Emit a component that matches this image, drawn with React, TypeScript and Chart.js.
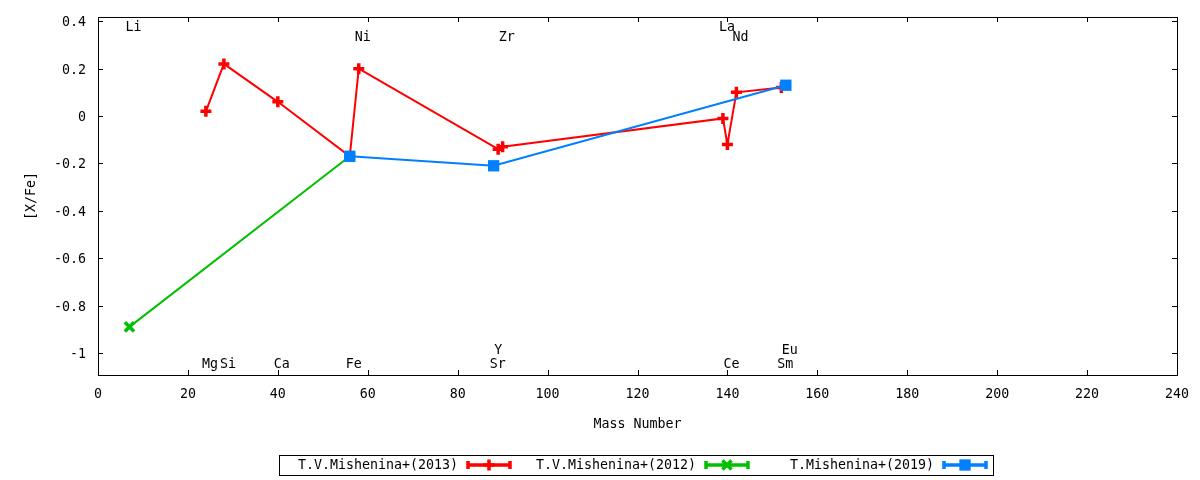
import React, { useEffect, useRef } from 'react';
import { Chart, registerables, Plugin } from 'chart.js';
import { drawPoint } from 'chart.js/helpers';

Chart.register(...registerables);

const FONT = '"DejaVu Sans Mono", monospace';
const FSIZE = 13.3;

// T.V.Mishenina+(2013)
const mass2013 = [24, 28, 40, 56, 58, 89, 90, 139, 140, 142, 152];
const xfe2013 = [0.02, 0.22, 0.06, -0.17, 0.2, -0.14, -0.13, -0.01, -0.12, 0.1, 0.12];
// T.V.Mishenina+(2012)
const mass2012 = [7, 56];
const xfe2012 = [-0.89, -0.17];
// T.Mishenina+(2019)
const mass2019 = [56, 88, 153];
const xfe2019 = [-0.17, -0.21, 0.13];

const seriesLabels = ['T.V.Mishenina+(2013)', 'T.V.Mishenina+(2012)', 'T.Mishenina+(2019)'];

// element name labels placed at their mass number
const elemNames = ['Li', 'Mg', 'Si', 'Ca', 'Fe', 'Ni', 'Sr', 'Y', 'Zr', 'La', 'Ce', 'Nd', 'Sm', 'Eu'];
const elemMass = [7, 24, 28, 40, 56, 58, 88, 89, 90, 139, 140, 142, 152, 153];
const elemLabelY = [0.375, -1.05, -1.05, -1.05, -1.05, 0.333, -1.05, -0.99, 0.333, 0.375, -1.05, 0.333, -1.05, -0.99];

const xTicks = [0, 20, 40, 60, 80, 100, 120, 140, 160, 180, 200, 220, 240];
const yTicks = [-1, -0.8, -0.6, -0.4, -0.2, 0, 0.2, 0.4];

const TICK = 5;

const toPoints = (xs: number[], ys: number[]) => xs.map((x, i) => ({ x, y: ys[i] }));

const gnuplotFrame: Plugin<'line'> = {
    id: 'gnuplotFrame',
    afterDraw(chart) {
        const { ctx, chartArea: a, scales } = chart;
        const xs = scales.x;
        const ys = scales.y;
        ctx.save();
        ctx.strokeStyle = '#000';
        ctx.lineWidth = 1;
        ctx.strokeRect(a.left + 0.5, a.top + 0.5, a.right - a.left, a.bottom - a.top);

        // inward tick marks on all four sides
        ctx.beginPath();
        xs.ticks.forEach((t) => {
            const px = Math.round(xs.getPixelForValue(t.value)) + 0.5;
            ctx.moveTo(px, a.bottom);
            ctx.lineTo(px, a.bottom - TICK);
            ctx.moveTo(px, a.top);
            ctx.lineTo(px, a.top + TICK);
        });
        ys.ticks.forEach((t) => {
            const py = Math.round(ys.getPixelForValue(t.value)) + 0.5;
            ctx.moveTo(a.left, py);
            ctx.lineTo(a.left + TICK, py);
            ctx.moveTo(a.right, py);
            ctx.lineTo(a.right - TICK, py);
        });
        ctx.stroke();

        // element labels
        ctx.font = `${FSIZE}px ${FONT}`;
        ctx.fillStyle = '#000';
        ctx.textAlign = 'left';
        ctx.textBaseline = 'middle';
        elemNames.forEach((name, i) => {
            ctx.fillText(name, xs.getPixelForValue(elemMass[i]) - 4, ys.getPixelForValue(elemLabelY[i]));
        });

        // legend box below the plot, gnuplot style (text then sample)
        const lx = 279, ly = 455, lw = 714, lh = 20, slot = 238;
        ctx.strokeRect(lx + 0.5, ly + 0.5, lw, lh);
        const cy = ly + lh / 2;
        chart.data.datasets.forEach((ds: any, i) => {
            const s = lx + i * slot;
            ctx.fillStyle = '#000';
            ctx.textAlign = 'right';
            ctx.fillText(ds.label, s + 179, cy + 1);

            ctx.strokeStyle = ds.borderColor;
            ctx.fillStyle = ds.borderColor;
            ctx.lineWidth = 3.5;
            ctx.beginPath();
            ctx.moveTo(s + 188, cy);
            ctx.lineTo(s + 232, cy);
            ctx.moveTo(s + 189, cy - 4);
            ctx.lineTo(s + 189, cy + 4);
            ctx.moveTo(s + 231, cy - 4);
            ctx.lineTo(s + 231, cy + 4);
            ctx.stroke();
            ctx.lineWidth = ds.pointBorderWidth;
            drawPoint(ctx, {
                pointStyle: ds.pointStyle,
                radius: ds.pointRadius,
                borderWidth: ds.pointBorderWidth,
                rotation: 0,
            } as any, s + 210, cy);
        });
        ctx.restore();
    },
};

const App: React.FC = () => {
    const canvasRef = useRef<HTMLCanvasElement>(null);

    useEffect(() => {
        if (!canvasRef.current) return;

        const tickFont = { family: FONT, size: FSIZE };

        const chart = new Chart(canvasRef.current, {
            type: 'line',
            data: {
                datasets: [
                    {
                        label: seriesLabels[0],
                        data: toPoints(mass2013, xfe2013),
                        borderColor: '#ff0000',
                        backgroundColor: '#ff0000',
                        borderWidth: 2,
                        pointStyle: 'cross',
                        pointRadius: 5.5,
                        pointBorderWidth: 3.5,
                        order: 3,
                    },
                    {
                        label: seriesLabels[1],
                        data: toPoints(mass2012, xfe2012),
                        borderColor: '#00c000',
                        backgroundColor: '#00c000',
                        borderWidth: 2,
                        pointStyle: 'crossRot',
                        pointRadius: 6.5,
                        pointBorderWidth: 3.5,
                        order: 2,
                    },
                    {
                        label: seriesLabels[2],
                        data: toPoints(mass2019, xfe2019),
                        borderColor: '#0080ff',
                        backgroundColor: '#0080ff',
                        borderWidth: 2,
                        pointStyle: 'rect',
                        pointRadius: 8,
                        pointBorderWidth: 0,
                        order: 1,
                    },
                ],
            },
            options: {
                responsive: false,
                animation: false,
                devicePixelRatio: 1,
                layout: { padding: { top: 17, right: 23, left: 0, bottom: 0 } },
                font: tickFont,
                color: '#000',
                plugins: {
                    legend: { display: false },
                    tooltip: { enabled: false },
                },
                scales: {
                    x: {
                        type: 'linear',
                        min: 0,
                        max: 240,
                        grid: { display: false, drawTicks: false },
                        border: { display: false },
                        afterBuildTicks: (scale) => {
                            scale.ticks = xTicks.map((value) => ({ value }));
                        },
                        afterFit: (scale) => {
                            scale.height = 105;
                            // let layout padding alone decide the plot edges
                            scale.paddingLeft = 0;
                            scale.paddingRight = 0;
                        },
                        ticks: {
                            padding: 12,
                            color: '#000',
                            font: tickFont,
                            maxRotation: 0,
                            callback: (v) => String(v),
                        },
                        title: {
                            display: true,
                            text: 'Mass Number',
                            color: '#000',
                            font: tickFont,
                            padding: { top: 0, bottom: 47 },
                        },
                    },
                    y: {
                        type: 'linear',
                        min: -1.093,
                        max: 0.418,
                        grid: { display: false, drawTicks: false },
                        border: { display: false },
                        afterBuildTicks: (scale) => {
                            scale.ticks = yTicks.map((value) => ({ value }));
                        },
                        afterFit: (scale) => {
                            scale.width = 98;
                            scale.paddingTop = 0;
                            scale.paddingBottom = 0;
                        },
                        ticks: {
                            padding: 12,
                            labelOffset: 1.5,
                            color: '#000',
                            font: tickFont,
                            callback: (v) => String(Number(Number(v).toFixed(1))),
                        },
                        title: {
                            display: true,
                            text: '[X/Fe]',
                            color: '#000',
                            font: tickFont,
                            padding: { top: 24, bottom: 0 },
                        },
                    },
                },
            },
            plugins: [gnuplotFrame],
        });

        return () => {
            chart.destroy();
        };
    }, []);

    return (
        <div style={{ position: 'absolute', left: 0, top: 0, width: 1200, height: 480, background: '#fff' }}>
            <canvas ref={canvasRef} width="1200" height="480"></canvas>
        </div>
    );
};

export default App;
